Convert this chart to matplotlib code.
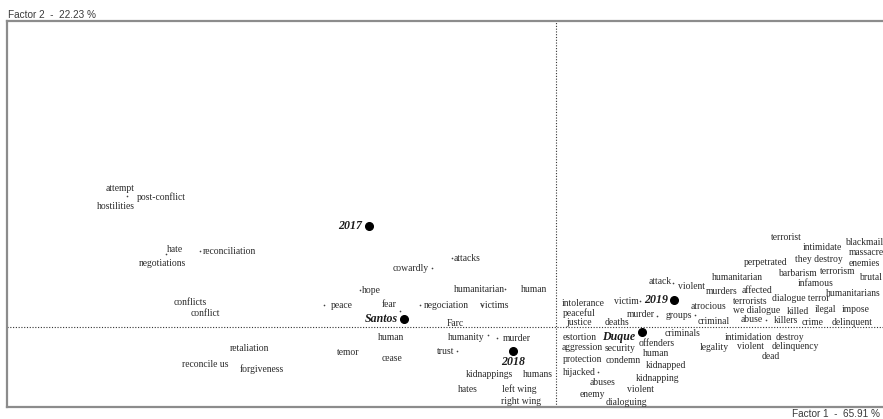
import matplotlib.pyplot as plt

plt.rcParams['font.family'] = ['Liberation Serif', 'DejaVu Serif']

# correspondence analysis, factor 1 x factor 2
factor1_label = 'Factor 1  -  65.91 %'
factor2_label = 'Factor 2  -  22.23 %'

# supplementary points: years and presidents
main_names = ['2017', 'Santos', '2018', '2019', 'Duque']
main_x = [-0.935, -0.76, -0.215, 0.59, 0.43]
main_y = [0.505, 0.04, -0.12, 0.135, -0.025]

# word labels (factor coordinates)
words = ['attempt', 'post-conflict', 'hostilities', 'hate', 'reconciliation', 'negotiations',
         'conflicts', 'conflict', 'peace', 'hope', 'fear', 'cowardly', 'attacks', 'humanitarian',
         'human', 'negociation', 'victims', 'Farc', 'human', 'humanity', 'murder', 'trust',
         'kidnappings', 'humans', 'hates', 'left wing', 'right wing', 'retaliation', 'temor',
         'reconcile us', 'forgiveness', 'cease',
         'attack', 'violent', 'murders', 'intolerance', 'victim', 'atrocious', 'peaceful',
         'murder', 'groups', 'justice', 'deaths', 'criminal', 'estortion', 'criminals',
         'offenders', 'aggression', 'security', 'legality', 'human', 'protection', 'condemn',
         'kidnapped', 'hijacked', 'abuses', 'kidnapping', 'violent', 'enemy', 'dialoguing',
         'terrorist', 'intimidate', 'blackmail', 'massacre', 'perpetrated', 'they destroy',
         'enemies', 'humanitarian', 'barbarism', 'terrorism', 'brutal', 'infamous', 'affected',
         'humanitarians', 'terrorists', 'dialogue terror', 'we dialogue', 'killed', 'ilegal',
         'impose', 'abuse', 'killers', 'crime', 'delinquent', 'intimidation', 'destroy',
         'violent', 'delinquency', 'dead']
words_x = [-2.18, -1.975, -2.20, -1.905, -1.635, -1.97,
           -1.83, -1.755, -1.07, -0.925, -0.835, -0.725, -0.445, -0.385,
           -0.11, -0.55, -0.31, -0.505, -0.825, -0.45, -0.195, -0.55,
           -0.335, -0.09, -0.44, -0.185, -0.175, -1.535, -1.04,
           -1.755, -1.47, -0.82,
           0.52, 0.675, 0.83, 0.135, 0.35, 0.76, 0.115,
           0.425, 0.615, 0.115, 0.305, 0.79, 0.12, 0.635,
           0.505, 0.13, 0.32, 0.79, 0.50, 0.13, 0.335,
           0.55, 0.115, 0.235, 0.51, 0.42, 0.18, 0.35,
           1.15, 1.33, 1.54, 1.55, 1.05, 1.315,
           1.54, 0.905, 1.205, 1.41, 1.57, 1.30, 1.005,
           1.485, 0.97, 1.225, 1.005, 1.21, 1.345,
           1.50, 0.98, 1.15, 1.285, 1.48, 0.96, 1.17,
           0.97, 1.195, 1.075]
words_y = [0.695, 0.65, 0.605, 0.39, 0.38, 0.32,
           0.125, 0.07, 0.11, 0.185, 0.115, 0.295, 0.345, 0.19,
           0.19, 0.11, 0.11, 0.02, -0.05, -0.05, -0.055, -0.12,
           -0.235, -0.235, -0.31, -0.31, -0.37, -0.105, -0.125,
           -0.185, -0.21, -0.155,
           0.23, 0.205, 0.18, 0.12, 0.13, 0.105, 0.07,
           0.065, 0.06, 0.025, 0.025, 0.03, -0.05, -0.03,
           -0.08, -0.10, -0.105, -0.10, -0.13, -0.16, -0.165,
           -0.19, -0.225, -0.275, -0.255, -0.31, -0.335, -0.375,
           0.45, 0.40, 0.425, 0.375, 0.325, 0.34,
           0.32, 0.25, 0.27, 0.28, 0.25, 0.22, 0.185,
           0.17, 0.13, 0.145, 0.085, 0.08, 0.09,
           0.09, 0.04, 0.035, 0.025, 0.025, -0.05, -0.05,
           -0.095, -0.095, -0.145]

# small markers of word points
dots_x = [-2.145, -1.95, -1.78, -1.16, -0.98, -0.78, -0.62, -0.52, -0.255, -0.68,
          -0.37, -0.34, -0.295, -0.495, 0.21, 0.42, 0.505, 0.695, 0.585, 1.05]
dots_y = [0.655, 0.365, 0.38, 0.11, 0.185, 0.08, 0.295, 0.345, 0.19, 0.11,
          0.11, -0.04, -0.055, -0.12, -0.225, 0.13, 0.055, 0.06, 0.22, 0.035]

fig = plt.figure(figsize=(8.83, 4.19), dpi=100)
ax = fig.add_axes([7 / 883, 12 / 419, 879 / 883, 386 / 419])
ax.set_xlim(-2.745, 1.65)
ax.set_ylim(-0.40, 1.53)
ax.set_xticks([])
ax.set_yticks([])
for s in ax.spines.values():
    s.set_color('#8c8c8c')
    s.set_linewidth(1.6)

ax.axhline(0, color='#333333', lw=0.8, ls=(0, (1, 1.5)))
ax.axvline(0, color='#333333', lw=0.8, ls=(0, (1, 1.5)))

ax.plot(dots_x, dots_y, 'o', color='#444444', ms=1.2, mew=0)

for w, x, y in zip(words, words_x, words_y):
    ax.text(x, y, w, ha='center', va='center', fontsize=6.9, color='#2a2a2a')

ax.plot(main_x, main_y, 'o', color='black', ms=5.5)
main_offsets = [(-0.095, 0.0), (-0.115, 0.0), (0.0, -0.055), (-0.09, 0.0), (-0.115, -0.025)]
for name, x, y, (dx, dy) in zip(main_names, main_x, main_y, main_offsets):
    ax.text(x + dx, y + dy, name, ha='center', va='center', fontsize=8.6,
            fontweight='bold', fontstyle='italic', color='#1a1a1a')

fig.text(8 / 883, 1 - 15 / 419, factor2_label, ha='left', va='center',
         fontsize=7.2, color='#3a3a3a', family='Liberation Sans')
fig.text(880 / 883, 1 - 414 / 419, factor1_label, ha='right', va='center',
         fontsize=7.2, color='#3a3a3a', family='Liberation Sans')

fig.savefig('out.png', dpi=100)
